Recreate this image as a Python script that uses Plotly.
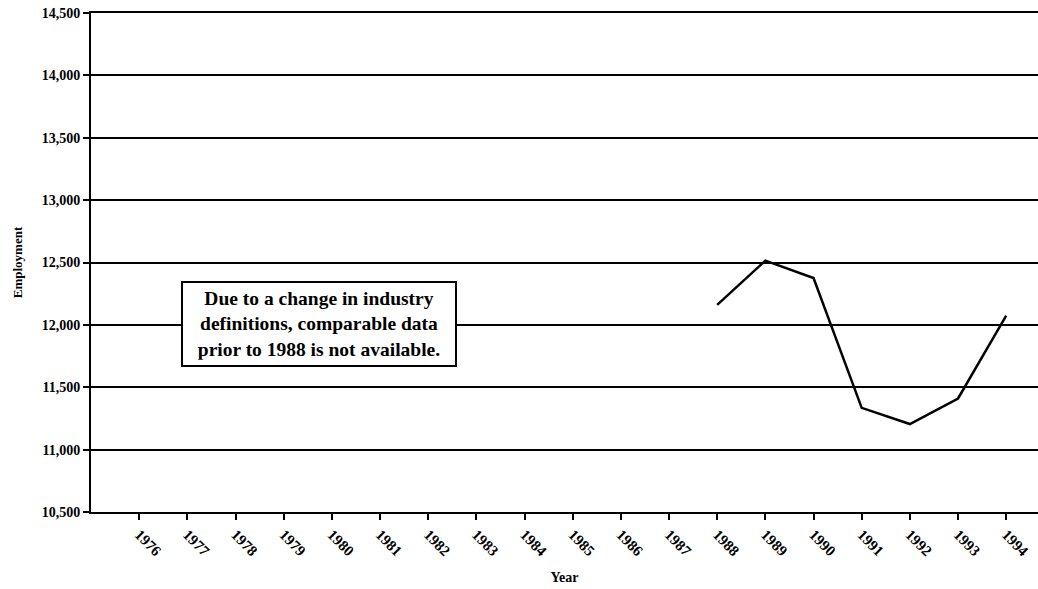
import plotly.graph_objects as go

years = [1988, 1989, 1990, 1991, 1992, 1993, 1994]
employment = [12160, 12515, 12375, 11335, 11205, 11410, 12075]
tick_years = list(range(1976, 1995))
y_ticks = [10500, 11000, 11500, 12000, 12500, 13000, 13500, 14000, 14500]
note = "Due to a change in industry<br>definitions, comparable data<br>prior to 1988 is not available."

serif = "Liberation Serif"

fig = go.Figure()
fig.add_trace(go.Scatter(x=years, y=employment, mode="lines",
                         line=dict(color="black", width=2.5), showlegend=False))

fig.update_layout(
    width=1038, height=589,
    margin=dict(l=91, r=0, t=13, b=77, autoexpand=False),
    paper_bgcolor="white", plot_bgcolor="white",
    xaxis=dict(range=[1975, 1994.66], tickmode="array", tickvals=tick_years,
               ticktext=[str(y) for y in tick_years], tickangle=45, automargin=False,
               ticks="outside", ticklen=6, tickwidth=2, tickcolor="black",
               showline=True, mirror=True, linecolor="black", linewidth=2, showgrid=False,
               zeroline=False,
               tickfont=dict(family=serif, size=15, color="black", weight="bold"),
               title=dict(text="Year", font=dict(family=serif, size=14, color="black", weight="bold"),
                          standoff=14)),
    yaxis=dict(range=[10500, 14500], tickmode="array", tickvals=y_ticks, automargin=False,
               ticktext=[f"{v:,}" for v in y_ticks],
               ticks="outside", ticklen=6, tickwidth=2, tickcolor="black",
               showline=True, linecolor="black", linewidth=2,
               showgrid=True, gridcolor="black", gridwidth=2, zeroline=False,
               tickfont=dict(family=serif, size=14, color="black", weight="bold"),
               title=dict(text="Employment", font=dict(family=serif, size=13, color="black", weight="bold"),
                          standoff=16)),
    annotations=[dict(
        xref="paper", yref="paper", x=0.241, y=0.377, xanchor="center", yanchor="middle",
        text=note, showarrow=False, align="center", width=262,
        font=dict(family=serif, size=19.5, color="black", weight="bold"),
        bordercolor="black", borderwidth=2, borderpad=5, bgcolor="white")],
)

fig.write_html("out.html", config={"displayModeBar": False},
               post_script="document.body.style.margin='0';document.body.style.overflow='hidden';")
